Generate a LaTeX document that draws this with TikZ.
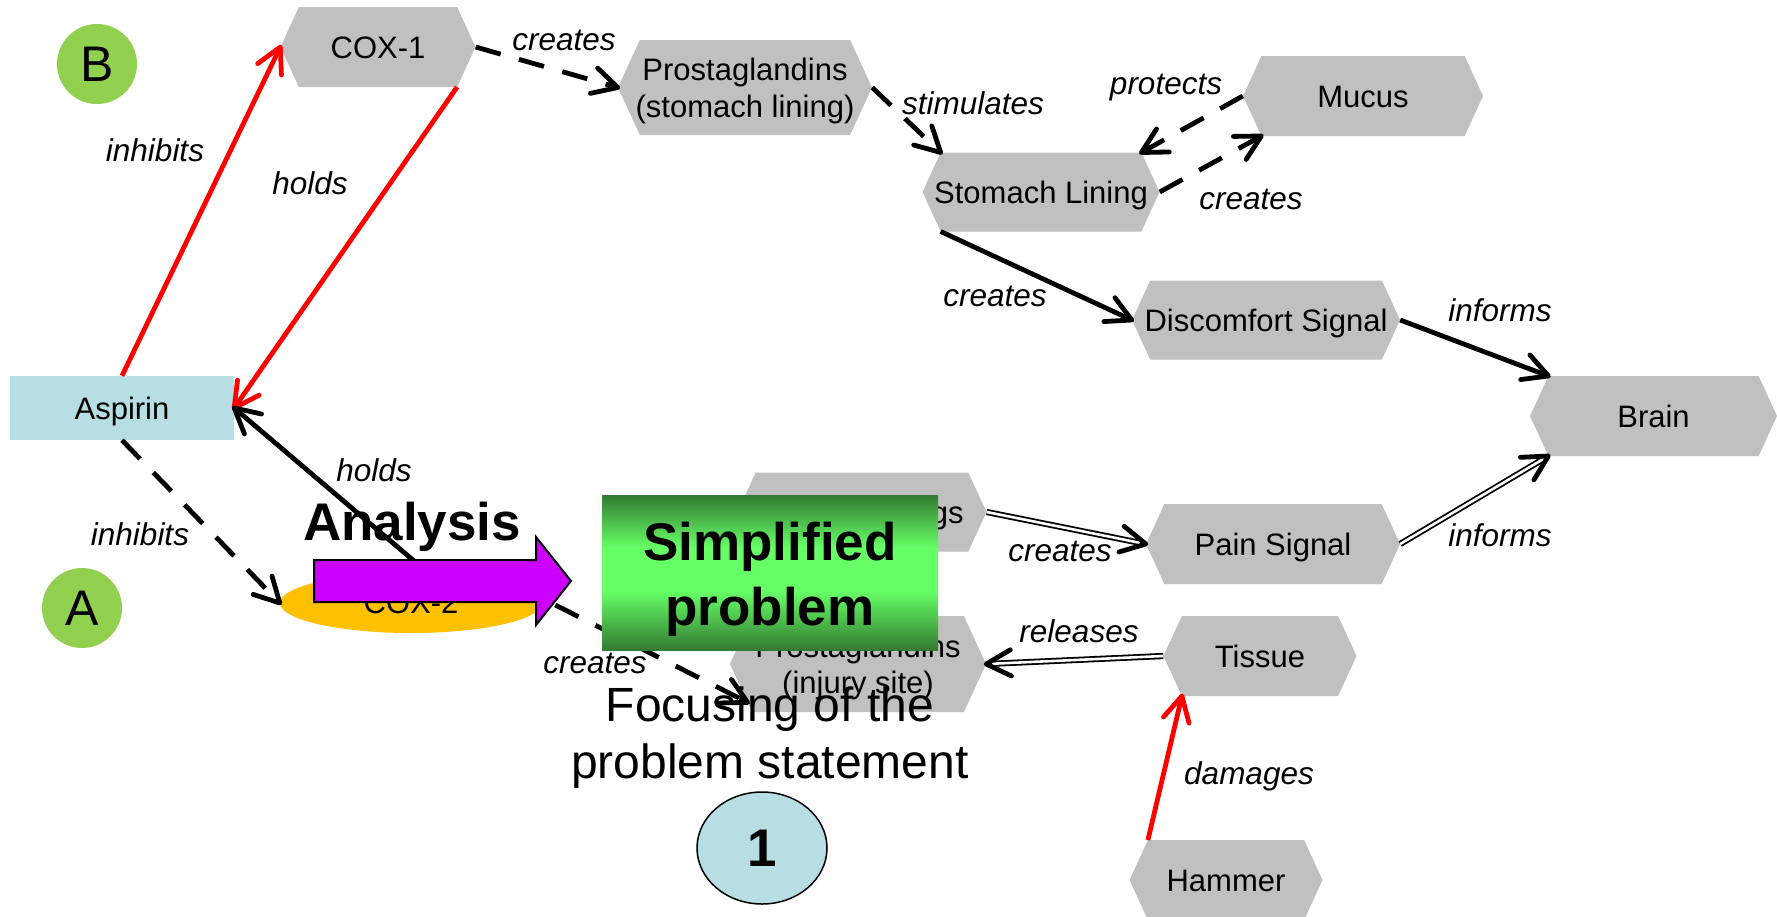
\documentclass[tikz,border=0pt]{standalone}
\usepackage{fontspec}
\setmainfont{Liberation Sans}
\usetikzlibrary{calc,shapes.geometric}

\definecolor{hexgray}{RGB}{192,192,192}
\definecolor{aspblue}{RGB}{183,222,226}
\definecolor{leafgreen}{RGB}{146,208,80}
\definecolor{amber}{RGB}{255,192,0}
\definecolor{violet}{RGB}{204,0,255}
\definecolor{deepgreen}{RGB}{52,122,50}
\definecolor{limegreen}{RGB}{102,255,102}

% vertical band: dark green at top and bottom, bright green in the middle
\pgfdeclareverticalshading{greenband}{100bp}{%
  color(0bp)=(deepgreen); color(25bp)=(deepgreen); color(44bp)=(limegreen);
  color(58bp)=(limegreen); color(75bp)=(deepgreen); color(100bp)=(deepgreen)}

\tikzset{
  hexbox/.style={rectangle, inner sep=0pt},
  hextext/.style={inner sep=0pt, align=center, font=\fontsize{31}{36.6}\selectfont},
  oneline/.style={text height=28pt, text depth=5pt},
  lbl/.style={inner sep=0pt, font=\fontsize{31.5}{36}\selectfont\itshape},
  solidline/.style={line width=4.8pt},
  dashline/.style={line width=4.8pt, dash pattern=on 26pt off 19pt},
  redline/.style={line width=4.8pt, draw=red},
  dblline/.style={line width=1.8pt, double=white, double distance=2.6pt, shorten >=2pt},
  tipv/.style={line width=4.8pt, line cap=round, line join=round},
}

% hexagonal concept box: [text options] name, x, y, width, height, text
\newcommand\hexnode[7][oneline]{%
  \fill[hexgray] (#3-#5/2,#4) -- (#3-#5/2+0.23*#6,#4-#6/2) -- (#3+#5/2-0.23*#6,#4-#6/2)
    -- (#3+#5/2,#4) -- (#3+#5/2-0.23*#6,#4+#6/2) -- (#3-#5/2+0.23*#6,#4+#6/2) -- cycle;
  \node[hexbox, minimum width=#5, minimum height=#6] (#2) at (#3,#4) {};
  \node[hextext, #1] (#2-text) at (#3,#4) {#7};
  \coordinate (#2-nw) at (#3-#5/2+0.23*#6,#4-#6/2);
  \coordinate (#2-ne) at (#3+#5/2-0.23*#6,#4-#6/2);
  \coordinate (#2-sw) at (#3-#5/2+0.23*#6,#4+#6/2);
  \coordinate (#2-se) at (#3+#5/2-0.23*#6,#4+#6/2);
}

% connector with an open V head: line style, head colour, source, target
\newcommand\link[4]{%
  \draw[#1] (#3) -- (#4);
  \draw[tipv, #2] ($(#4)!28pt!28:(#3)$) -- (#4) -- ($(#4)!28pt!-28:(#3)$);
}

\begin{document}
\begin{tikzpicture}[x=1pt, y=-1pt]
\useasboundingbox (0,0) rectangle (1777,916);
\fill[white] (0,0) rectangle (1777,916);

% concepts
\hexnode{cox1}{378}{47}{195}{80}{COX-1}
\hexnode[yshift=-3.5pt]{pgs}{745}{87.5}{254}{95}{Prostaglandins\\(stomach lining)}
\hexnode{sto}{1041}{192}{237}{79}{Stomach Lining}
\hexnode{muc}{1363}{96}{240}{80}{Mucus}
\hexnode{dis}{1266}{320}{268}{79}{Discomfort Signal}
\hexnode{brain}{1653.5}{416}{247}{80}{Brain}
\hexnode{ner}{862}{512}{249}{79}{Nerve Endings}
\hexnode{pain}{1273}{544}{254}{80}{Pain Signal}
\hexnode[yshift=-3.5pt]{pgi}{858}{664}{256}{96}{Prostaglandins\\(injury site)}
\hexnode{tis}{1260}{656}{193}{80}{Tissue}
\hexnode{ham}{1226}{880}{193}{80}{Hammer}
\coordinate (pgi-in) at ($(pgi.west)!0.8!(pgi-sw)$);

\node[rectangle, fill=aspblue, minimum width=224, minimum height=64, inner sep=0pt,
      font=\fontsize{31}{36}\selectfont, oneline] (asp) at (122,408) {Aspirin};
\node[ellipse, fill=amber, minimum width=262, minimum height=60, inner sep=0pt,
      font=\fontsize{31}{36}\selectfont] (cox2) at (411,603) {COX-2};

\node[circle, fill=leafgreen, minimum size=80, inner sep=0pt,
      font=\fontsize{50}{60}\selectfont] (markb) at (97,64) {B};
\node[circle, fill=leafgreen, minimum size=80, inner sep=0pt,
      font=\fontsize{50}{60}\selectfont] (marka) at (82,608) {A};

% relations
\link{redline}{red}{asp.north}{cox1.west}
\link{redline}{red}{cox1-se}{asp.east}
\link{dashline}{}{cox1.east}{pgs.west}
\link{dashline}{}{pgs.east}{sto-nw}
\link{dashline}{}{muc.west}{sto-ne}
\link{dashline}{}{sto.east}{muc-sw}
\link{solidline}{}{sto-sw}{dis.west}
\link{solidline}{}{dis.east}{brain-nw}
\link{dblline}{}{pain.east}{brain-sw}
\link{dblline}{}{ner.east}{pain.west}
\link{dblline}{}{tis.west}{pgi.east}
\link{redline}{red}{ham-nw}{tis-sw}
\link{dashline}{}{asp.south}{cox2.west}
\link{solidline}{}{cox2.60}{asp.east}
\link{dashline}{}{cox2.10}{pgi-in}

% relation labels
\node[lbl] (l1) at (155,150) {inhibits};
\node[lbl] (l2) at (310,183) {holds};
\node[lbl] (l3) at (564,40) {creates};
\node[lbl] (l4) at (973,103) {stimulates};
\node[lbl] (l5) at (1166,88) {protects};
\node[lbl] (l6) at (1251,199) {creates};
\node[lbl] (l7) at (995,296) {creates};
\node[lbl] (l8) at (1500,310) {informs};
\node[lbl] (l9) at (1500,535) {informs};
\node[lbl] (l10) at (1060,551) {creates};
\node[lbl] (l11) at (1079,631) {releases};
\node[lbl] (l12) at (1249,776) {damages};
\node[lbl] (l13) at (140,534) {inhibits};
\node[lbl] (l14) at (374,470) {holds};
\node[lbl] (l15) at (595,663) {creates};

% analysis step overlay
\draw[fill=violet, line width=2pt] (314,560) -- (536,560) -- (536,537) -- (571,581)
  -- (536,625) -- (536,602) -- (314,602) -- cycle;
\node[anchor=base, inner sep=0pt, font=\fontsize{53}{60}\selectfont\bfseries]
  (analysis) at (412,540) {Analysis};
\node[rectangle, minimum width=336, minimum height=155, inner sep=0pt,
      shading=greenband] (simp) at (770,572.5) {};
\node[inner sep=0pt, align=center, font=\fontsize{53}{65}\selectfont\bfseries]
  (simptext) at (770,579) {Simplified\\problem};
\node[inner sep=0pt, align=center, font=\fontsize{48}{57}\selectfont]
  (focus) at (770,738) {Focusing of the\\problem statement};
\node[ellipse, draw=black, line width=1.5pt, fill=aspblue, minimum width=130,
      minimum height=112, inner sep=0pt, font=\fontsize{53}{60}\selectfont\bfseries]
  (one) at (762,848) {1};
\end{tikzpicture}
\end{document}
